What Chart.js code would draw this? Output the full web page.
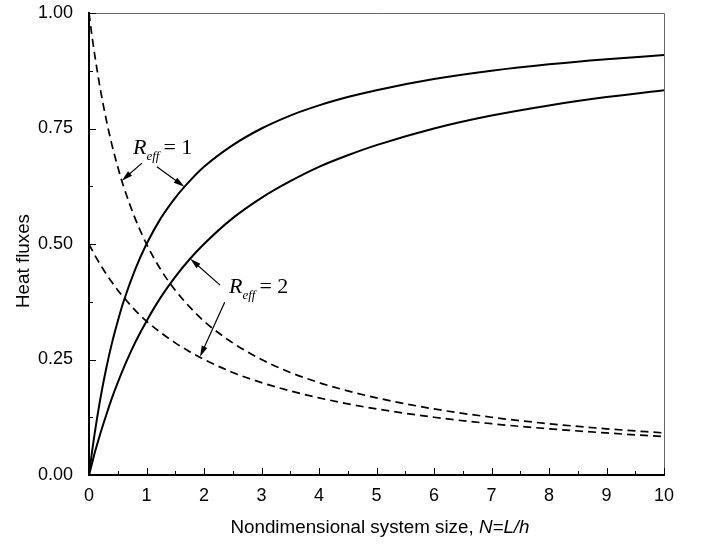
<!DOCTYPE html>
<html>
<head>
<meta charset="utf-8">
<script src="https://cdn.jsdelivr.net/npm/chart.js@4.4.1/dist/chart.umd.min.js"></script>
<style>
  html, body { margin: 0; padding: 0; background: #fff; }
  #wrap { width: 704px; height: 545px; }
</style>
</head>
<body>
<div id="wrap"><canvas id="chart" width="704" height="545"></canvas></div>
<script>
// system size N = L/h
const sizeN = [0, 0.05, 0.1, 0.2, 0.3, 0.4, 0.5, 0.6, 0.8, 1, 1.25, 1.5, 1.75, 2,
  2.5, 3, 3.5, 4, 4.5, 5, 6, 7, 8, 9, 10];

// solid curves (rising)
const solidR1 = [0, 0.048, 0.091, 0.167, 0.231, 0.286, 0.333, 0.375, 0.444, 0.5, 0.556,
  0.6, 0.636, 0.667, 0.714, 0.75, 0.778, 0.8, 0.818, 0.833, 0.857, 0.875, 0.889, 0.9, 0.909];
const solidR2 = [0, 0.024, 0.048, 0.091, 0.13, 0.167, 0.2, 0.231, 0.286, 0.333, 0.385,
  0.429, 0.467, 0.5, 0.556, 0.6, 0.636, 0.667, 0.692, 0.714, 0.75, 0.778, 0.8, 0.818, 0.833];

// dashed curves (falling)
const dashedR1 = [1, 0.952, 0.909, 0.833, 0.769, 0.714, 0.667, 0.625, 0.556, 0.5, 0.444,
  0.4, 0.364, 0.333, 0.286, 0.25, 0.222, 0.2, 0.182, 0.167, 0.143, 0.125, 0.111, 0.1, 0.091];
const dashedR2 = [0.5, 0.488, 0.476, 0.455, 0.435, 0.417, 0.4, 0.385, 0.357, 0.333, 0.308,
  0.286, 0.267, 0.25, 0.222, 0.2, 0.182, 0.167, 0.154, 0.143, 0.125, 0.111, 0.1, 0.091, 0.083];

const xTicks = [0, 1, 2, 3, 4, 5, 6, 7, 8, 9, 10];
const yTicks = [0, 0.25, 0.5, 0.75, 1];

// labels with arrows: text anchor, then arrow tails and tips in data units
const labels = [
  { value: '1', at: [0.765, 0.695],
    arrows: [[[0.92, 0.675], [0.57, 0.637]], [[1.18, 0.667], [1.66, 0.624]]] },
  { value: '2', at: [2.435, 0.394],
    arrows: [[[2.28, 0.411], [1.76, 0.468]], [[2.36, 0.374], [1.93, 0.256]]] },
];

const pts = (ys) => sizeN.map((n, i) => ({ x: n, y: ys[i] }));

const line = (ys, dashed) => ({
  data: pts(ys),
  borderColor: '#000',
  borderWidth: dashed ? 1.7 : 2,
  borderDash: dashed ? [8, 5] : [],
  pointRadius: 0,
  cubicInterpolationMode: 'monotone',
  fill: false,
});

const SANS = '"Liberation Sans", Arial, sans-serif';
const SERIF = '"Liberation Serif", "Times New Roman", serif';

const frame = {
  id: 'frame',
  afterDraw(chart) {
    const { ctx, chartArea: a, scales: { x, y } } = chart;
    ctx.save();
    // top and right edges
    ctx.strokeStyle = '#666';
    ctx.lineWidth = 1;
    ctx.beginPath();
    ctx.moveTo(a.left, a.top + 0.5);
    ctx.lineTo(a.right + 0.5, a.top + 0.5);
    ctx.lineTo(a.right + 0.5, a.bottom);
    ctx.stroke();

    // inward ticks, major and minor
    ctx.strokeStyle = '#000';
    ctx.lineWidth = 1;
    ctx.beginPath();
    for (let v = 0; v <= 10.001; v += 0.5) {
      const px = Math.round(x.getPixelForValue(v)) + 0.5;
      const len = Number.isInteger(v) ? 7 : 4;
      ctx.moveTo(px, a.bottom);
      ctx.lineTo(px, a.bottom - len);
    }
    for (let v = 0; v <= 1.0001; v += 0.125) {
      const py = Math.round(y.getPixelForValue(v)) + 0.5;
      const len = Math.abs(v / 0.25 - Math.round(v / 0.25)) < 1e-6 ? 7 : 4;
      ctx.moveTo(a.left, py);
      ctx.lineTo(a.left + len, py);
    }
    ctx.stroke();

    // axis titles
    ctx.fillStyle = '#000';
    ctx.textBaseline = 'alphabetic';
    const plain = 'Nondimensional system size, ';
    const ital = 'N=L/h';
    ctx.font = '18.8px ' + SANS;
    const w1 = ctx.measureText(plain).width;
    ctx.font = 'italic 18.8px ' + SANS;
    const w2 = ctx.measureText(ital).width;
    const sx = 380 - (w1 + w2) / 2;
    ctx.font = '18.8px ' + SANS;
    ctx.textAlign = 'left';
    ctx.fillText(plain, sx, 533);
    ctx.font = 'italic 18.8px ' + SANS;
    ctx.fillText(ital, sx + w1, 533);

    ctx.save();
    ctx.translate(29, 261);
    ctx.rotate(-Math.PI / 2);
    ctx.textAlign = 'center';
    ctx.font = '18.8px ' + SANS;
    ctx.fillText('Heat fluxes', 0, 0);
    ctx.restore();

    // R_eff labels and arrows
    labels.forEach((lb) => {
      let tx = x.getPixelForValue(lb.at[0]);
      const ty = y.getPixelForValue(lb.at[1]);
      ctx.textAlign = 'left';
      ctx.font = 'italic 22px ' + SERIF;
      ctx.fillText('R', tx, ty);
      tx += ctx.measureText('R').width;
      ctx.font = 'italic 13px ' + SERIF;
      ctx.fillText('eff', tx, ty + 6);
      tx += ctx.measureText('eff').width + 4;
      ctx.font = '22px ' + SERIF;
      ctx.fillText('= ' + lb.value, tx, ty);

      lb.arrows.forEach(([from, to]) => {
        const x0 = x.getPixelForValue(from[0]);
        const y0 = y.getPixelForValue(from[1]);
        const x1 = x.getPixelForValue(to[0]);
        const y1 = y.getPixelForValue(to[1]);
        const ang = Math.atan2(y1 - y0, x1 - x0);
        ctx.lineWidth = 1.2;
        ctx.beginPath();
        ctx.moveTo(x0, y0);
        ctx.lineTo(x1 - 6 * Math.cos(ang), y1 - 6 * Math.sin(ang));
        ctx.stroke();
        ctx.beginPath();
        ctx.moveTo(x1, y1);
        ctx.lineTo(x1 - 11 * Math.cos(ang) + 3 * Math.sin(ang), y1 - 11 * Math.sin(ang) - 3 * Math.cos(ang));
        ctx.lineTo(x1 - 11 * Math.cos(ang) - 3 * Math.sin(ang), y1 - 11 * Math.sin(ang) + 3 * Math.cos(ang));
        ctx.closePath();
        ctx.fill();
      });
    });
    ctx.restore();
  },
};

const tickFont = { family: SANS, size: 18 };

new Chart(document.getElementById('chart'), {
  type: 'line',
  data: {
    datasets: [
      line(solidR1, false),
      line(solidR2, false),
      line(dashedR1, true),
      line(dashedR2, true),
    ],
  },
  options: {
    responsive: false,
    animation: false,
    layout: { padding: { left: 0, top: 13, right: 40, bottom: 0 } },
    plugins: { legend: { display: false }, tooltip: { enabled: false } },
    scales: {
      x: {
        type: 'linear',
        min: 0,
        max: 10,
        afterFit: (s) => { s.height = 70; s.paddingLeft = 0; s.paddingRight = 0; },
        afterBuildTicks: (s) => { s.ticks = xTicks.map((v) => ({ value: v })); },
        grid: { display: false },
        border: { display: true, color: '#000', width: 2 },
        ticks: { color: '#000', font: tickFont, padding: 2, maxRotation: 0 },
      },
      y: {
        type: 'linear',
        min: 0,
        max: 1,
        afterFit: (s) => { s.width = 89; s.paddingTop = 0; s.paddingBottom = 0; },
        afterBuildTicks: (s) => { s.ticks = yTicks.map((v) => ({ value: v })); },
        grid: { display: false },
        border: { display: true, color: '#000', width: 2 },
        ticks: {
          color: '#000',
          font: tickFont,
          padding: 8,
          callback: (v) => Number(v).toFixed(2),
        },
      },
    },
  },
  plugins: [frame],
});
</script>
</body>
</html>
